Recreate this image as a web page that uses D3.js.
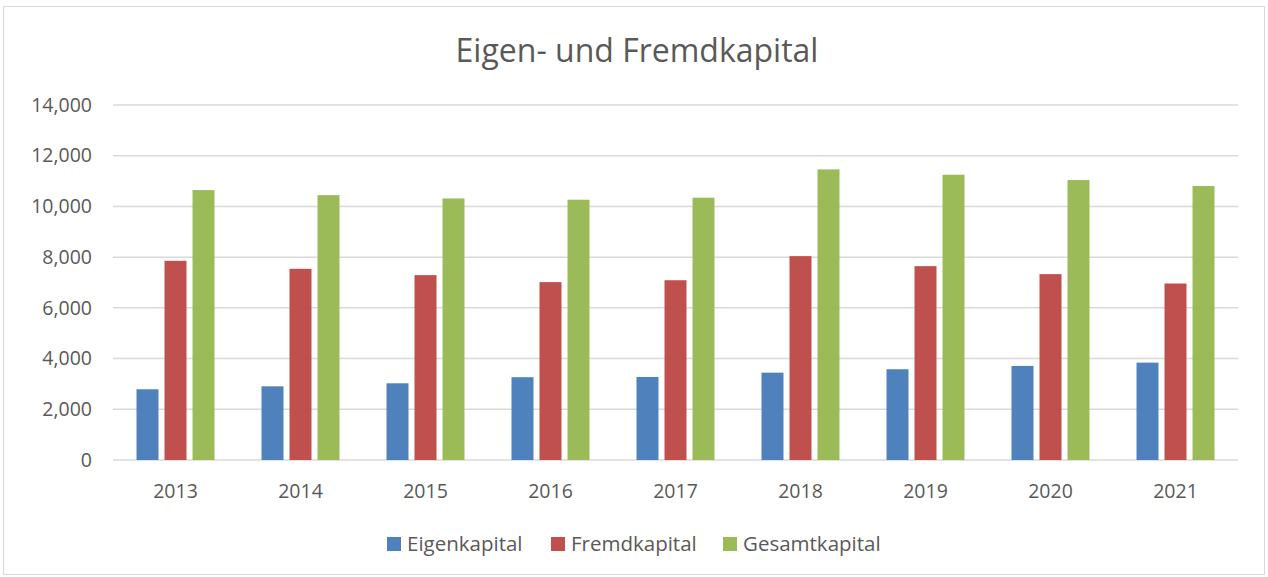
<!DOCTYPE html>
<html>
<head>
<meta charset="utf-8">
<script src="https://cdn.jsdelivr.net/npm/d3@7"></script>
<style>
body { margin:0; background:#fff; }
svg text { font-family: "Open Sans", "Liberation Sans", sans-serif; fill:#595959; }
</style>
</head>
<body>
<svg id="chart"></svg>
<script>
var years = ["2013","2014","2015","2016","2017","2018","2019","2020","2021"]
var eigenkapital = [2790, 2905, 3025, 3265, 3275, 3445, 3580, 3710, 3840]
var fremdkapital = [7855, 7540, 7290, 7015, 7090, 8040, 7645, 7330, 6960]
var gesamtkapital = [10645, 10445, 10315, 10265, 10345, 11460, 11250, 11040, 10805]
var yTicks = [0, 2000, 4000, 6000, 8000, 10000, 12000, 14000]
var seriesNames = ["Eigenkapital", "Fremdkapital", "Gesamtkapital"]
var colors = ["#4F81BD", "#C0504D", "#9BBB59"]

var screen = {width:1268, height:577}
var margins = {top:105, left:113, right:30, bottom:117}
var graph = {
    width: screen.width-margins.left-margins.right,
    height: screen.height-margins.top-margins.bottom
}

var svg = d3.select("#chart")
    .attr("width", screen.width)
    .attr("height", screen.height)

// outer frame
svg.append("rect")
    .attr("x", 3.5).attr("y", 6.5)
    .attr("width", screen.width-7).attr("height", screen.height-9)
    .attr("fill", "#fff")
    .attr("stroke", "#D9D9D9")
    .attr("stroke-width", 1)

var xScale = d3.scaleBand()
    .domain(years)
    .range([0, graph.width])

var yScale = d3.scaleLinear()
    .domain([0, 14000])
    .range([graph.height, 0])

var g = svg.append("g")
    .attr("transform", "translate("+margins.left+","+margins.top+")")

// gridlines
g.append("g")
    .selectAll("line")
    .data(yTicks)
    .enter()
    .append("line")
    .attr("x1", 0)
    .attr("x2", graph.width)
    .attr("y1", function(d){ return yScale(d) })
    .attr("y2", function(d){ return yScale(d) })
    .attr("stroke", "#D9D9D9")
    .attr("stroke-width", 1.5)

// y axis labels
var yAxis = d3.axisLeft(yScale)
    .tickValues(yTicks)
    .tickFormat(d3.format(","))
    .tickSize(0)
    .tickPadding(21)
var ya = g.append("g").call(yAxis)
ya.select(".domain").remove()
ya.selectAll("text")
    .style("font-size", "19.5px")
    .attr("fill", "#595959")

// x axis labels
var xAxis = d3.axisBottom(xScale).tickSize(0).tickPadding(24)
var xa = g.append("g")
    .attr("transform", "translate(0,"+graph.height+")")
    .call(xAxis)
xa.select(".domain").remove()
xa.selectAll("text")
    .style("font-size", "19.5px")
    .attr("fill", "#595959")

var series = [eigenkapital, fremdkapital, gesamtkapital]
var barW = 22, step = 28

series.forEach(function(values, s) {
    g.append("g")
        .selectAll("rect")
        .data(values)
        .enter()
        .append("rect")
        .attr("x", function(d, i){
            return xScale(years[i]) + xScale.bandwidth()/2 - 39 + s*step
        })
        .attr("y", function(d){ return yScale(d) })
        .attr("width", barW)
        .attr("height", function(d){ return graph.height - yScale(d) })
        .attr("fill", colors[s])
})

// title
svg.append("text")
    .attr("x", 637)
    .attr("y", 62)
    .attr("text-anchor", "middle")
    .style("font-size", "32px")
    .text("Eigen- und Fremdkapital")

// legend
var legendX = [387, 551, 723]
var legend = svg.append("g")
    .selectAll("g")
    .data(seriesNames)
    .enter()
    .append("g")
    .attr("transform", function(d, i){ return "translate("+legendX[i]+",537)" })
legend.append("rect")
    .attr("width", 14).attr("height", 14)
    .attr("fill", function(d, i){ return colors[i] })
legend.append("text")
    .attr("x", 20)
    .attr("y", 14)
    .style("font-size", "20.5px")
    .text(function(d){ return d })
</script>
</body>
</html>
